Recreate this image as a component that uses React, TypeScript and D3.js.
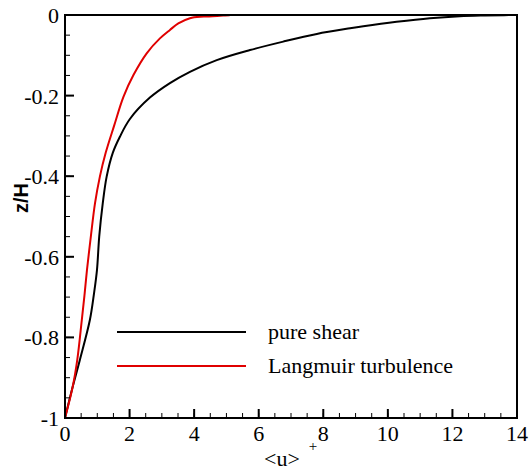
import React from "react";
import * as d3 from "d3";

const shearU = [0, 0.24, 0.46, 0.77, 0.9, 0.99, 1.06, 1.17, 1.29, 1.48, 1.7, 2.01, 2.63, 3.25, 3.87, 4.7, 5.73, 6.76, 7.8, 8.83, 9.24, 10.27, 11.3, 12.23, 13.0, 13.6, 14];
const shearZ = [-1, -0.922, -0.856, -0.757, -0.69, -0.633, -0.55, -0.467, -0.401, -0.342, -0.302, -0.258, -0.205, -0.169, -0.141, -0.112, -0.087, -0.066, -0.047, -0.033, -0.028, -0.017, -0.008, -0.003, -0.0012, -0.0004, 0];
const langU = [0, 0.24, 0.38, 0.52, 0.61, 0.68, 0.8, 0.93, 1.08, 1.26, 1.52, 1.81, 2.12, 2.53, 2.94, 3.25, 3.51, 3.87, 4.3, 4.9, 5.1];
const langZ = [-1, -0.922, -0.856, -0.757, -0.69, -0.633, -0.55, -0.467, -0.401, -0.342, -0.275, -0.203, -0.149, -0.095, -0.058, -0.037, -0.021, -0.008, -0.004, -0.0015, -0.0005];

const xTicks = [0, 2, 4, 6, 8, 10, 12, 14];
const yTicks = [0, -0.2, -0.4, -0.6, -0.8, -1];
const seriesNames = ["pure shear", "Langmuir turbulence"];
const seriesColors = ["#000000", "#e00000"];

const css = `
.serif { font-family: "Liberation Serif", "Times New Roman", Times, "DejaVu Serif", serif; }
.sans { font-family: "Liberation Sans", Arial, Helvetica, sans-serif; }
`;

export default function App() {
  const W = 530, H = 471;
  const left = 65, right = 517, top = 15, bottom = 418;
  const x = d3.scaleLinear().domain([0, 14]).range([left, right]);
  const y = d3.scaleLinear().domain([-1, 0]).range([bottom, top]);
  const line = d3
    .line<[number, number]>()
    .x((d) => x(d[0]))
    .y((d) => y(d[1]))
    .curve(d3.curveCatmullRom.alpha(0.5));

  const shear: [number, number][] = shearU.map((u, i) => [u, shearZ[i]]);
  const lang: [number, number][] = langU.map((u, i) => [u, langZ[i]]);

  const xMinor = d3.range(0, 14.001, 0.5);
  const yMinor = d3.range(0, 21).map((i) => -i * 0.05);

  return (
    <svg width={W} height={H} style={{ position: "absolute", left: 0, top: 0 }}>
      <style>{css}</style>
      <rect x={0} y={0} width={W} height={H} fill="white" />
      <defs>
        <clipPath id="clip">
          <rect x={left} y={top - 1} width={right - left} height={bottom - top + 1} />
        </clipPath>
      </defs>
      <g clipPath="url(#clip)">
        <path d={line(shear) || ""} fill="none" stroke={seriesColors[0]} strokeWidth={2} />
        <path d={line(lang) || ""} fill="none" stroke={seriesColors[1]} strokeWidth={2} />
      </g>
      {xMinor.map((v, i) => (
        <line key={"xm" + i} x1={x(v)} x2={x(v)} y1={bottom} y2={bottom - 5} stroke="#000" strokeWidth={1} />
      ))}
      {yMinor.map((v, i) => (
        <line key={"ym" + i} x1={left} x2={left + 5} y1={y(v)} y2={y(v)} stroke="#000" strokeWidth={1} />
      ))}
      {xTicks.map((v) => (
        <line key={"xt" + v} x1={x(v)} x2={x(v)} y1={bottom} y2={bottom - 9} stroke="#000" strokeWidth={2} />
      ))}
      {yTicks.map((v) => (
        <line key={"yt" + v} x1={left} x2={left + 9} y1={y(v)} y2={y(v)} stroke="#000" strokeWidth={2} />
      ))}
      <rect x={left} y={top} width={right - left} height={bottom - top} fill="none" stroke="#000" strokeWidth={2} />
      <g className="serif" fontSize={22} fill="#000">
        {xTicks.map((v) => (
          <text key={"xl" + v} className="serif" x={x(v)} y={bottom + 23} textAnchor="middle">
            {v}
          </text>
        ))}
        {yTicks.map((v) => (
          <text key={"yl" + v} className="serif" x={left - 6} y={y(v) + 8} textAnchor="end">
            {String(v)}
          </text>
        ))}
        <text className="serif" x={282} y={466} textAnchor="middle">
          {"<u>"}
        </text>
        <text className="serif" x={313} y={451} textAnchor="middle" fontSize={15}>
          +
        </text>
        {seriesNames.map((n, i) => (
          <g key={n}>
            <line x1={117} x2={246} y1={332 + i * 34} y2={332 + i * 34} stroke={seriesColors[i]} strokeWidth={2} />
            <text className="serif" x={268} y={339 + i * 34}>
              {n}
            </text>
          </g>
        ))}
      </g>
      <text
        className="sans"
        transform={`translate(28,${198}) rotate(-90)`}
        textAnchor="middle"
        fontWeight="bold"
        fontSize={20}
        fill="#000"
      >
        z/H
      </text>
    </svg>
  );
}
